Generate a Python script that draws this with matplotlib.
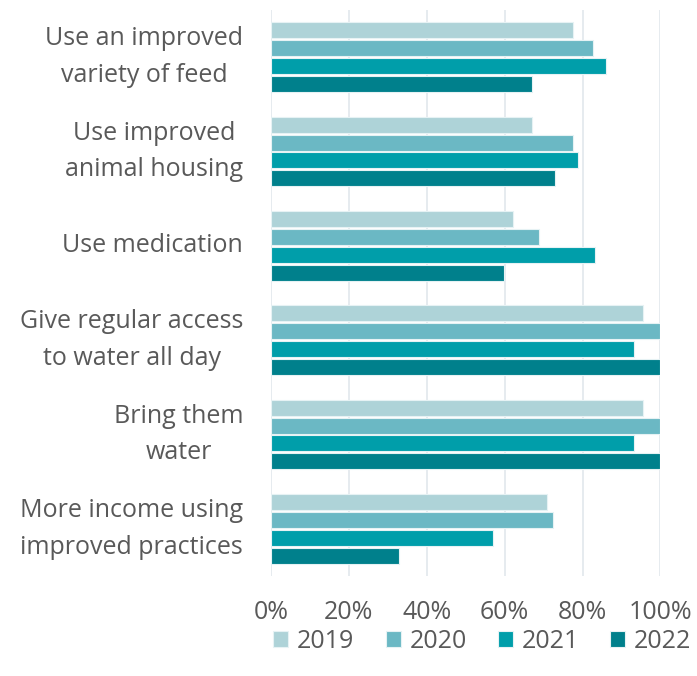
import matplotlib
matplotlib.use("Agg")
import matplotlib.pyplot as plt
import numpy as np
from matplotlib.ticker import FuncFormatter

categories = [
    "Use an improved\nvariety of feed",
    "Use improved\nanimal housing",
    "Use medication",
    "Give regular access\nto water all day",
    "Bring them\nwater",
    "More income using\nimproved practices",
]
years = ["2019", "2020", "2021", "2022"]
v2019 = [77.6, 66.9, 62.2, 95.6, 95.6, 70.9]
v2020 = [82.8, 77.6, 68.9, 100.0, 100.0, 72.5]
v2021 = [85.9, 78.7, 83.3, 93.1, 93.1, 57.1]
v2022 = [66.9, 73.0, 59.7, 100.0, 100.0, 32.9]
series = [v2019, v2020, v2021, v2022]
colors = ["#AED3D8", "#6BB8C4", "#009EAA", "#00808C"]

plt.rcParams["font.family"] = ["Open Sans", "DejaVu Sans"]

fig = plt.figure(figsize=(6.97, 6.76), dpi=100)
ax = fig.add_axes([0.3888, 0.1479, 0.9476 - 0.3888, 0.9852 - 0.1479])

y = np.arange(len(categories))
step = 0.19
h = 0.17
for i, (vals, c, yr) in enumerate(zip(series, colors, years)):
    offs = (i - 1.5) * step
    ax.barh(y + offs, vals, height=h, color=c, edgecolor="#E6F2F4",
            linewidth=0.8, label=yr, zorder=3)

ax.set_xlim(0, 100)
ax.set_ylim(5.5, -0.5)
ax.set_xticks(np.arange(0, 101, 20))
ax.xaxis.set_major_formatter(FuncFormatter(lambda v, p: f"{int(v)}%"))
ax.set_yticks(y)
ax.set_yticklabels(categories, multialignment="center", linespacing=1.6, va="center")
ax.grid(axis="x", color="#E1E7EC", linewidth=1.2, zorder=0)
ax.set_axisbelow(True)
for s in ax.spines.values():
    s.set_visible(False)
ax.tick_params(axis="both", length=0, labelsize=18, colors="#595959")
ax.tick_params(axis="y", pad=20)
ax.tick_params(axis="x", pad=17)

handles, labels = ax.get_legend_handles_labels()
leg = fig.legend(handles, labels, loc="center", bbox_to_anchor=(0.692, 1 - 641 / 676),
                 ncol=4, frameon=False, fontsize=18, handlelength=0.6,
                 handleheight=0.6, handletextpad=0.35, columnspacing=1.25)
for t in leg.get_texts():
    t.set_color("#595959")

fig.savefig("out.png", dpi=100)
